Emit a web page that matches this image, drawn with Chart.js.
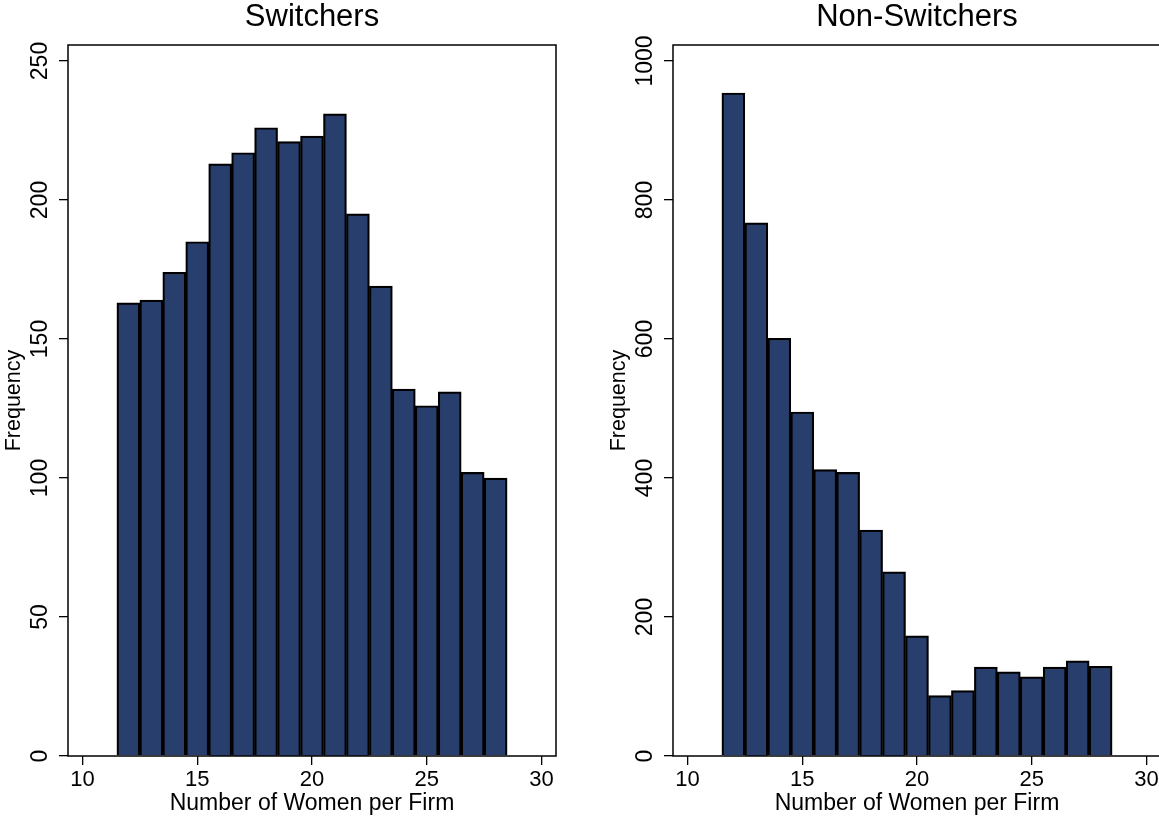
<!DOCTYPE html>
<html>
<head>
<meta charset="utf-8">
<script src="https://cdn.jsdelivr.net/npm/chart.js@4/dist/chart.umd.min.js"></script>
<style>
  html, body { margin: 0; padding: 0; background: #fff; overflow: hidden; }
  body { width: 1159px; height: 819px; position: relative; }
  canvas { position: absolute; top: 0; }
  #left { left: 0; }
  #right { left: 605px; }
</style>
</head>
<body>
<canvas id="left" width="558" height="819"></canvas>
<canvas id="right" width="558" height="819"></canvas>
<script>
// bins (number of women per firm) and counts
const bins = [12, 13, 14, 15, 16, 17, 18, 19, 20, 21, 22, 23, 24, 25, 26, 27, 28];
const switchers = [163, 164, 174, 185, 213, 217, 226, 221, 223, 231, 195, 169, 132, 126, 131, 102, 100];
const nonSwitchers = [954, 767, 601, 495, 412, 408, 325, 265, 173, 87, 94, 128, 121, 114, 128, 137, 129];

const xTicks = [10, 15, 20, 25, 30];
const switchersYTicks = [0, 50, 100, 150, 200, 250];
const nonSwitchersYTicks = [0, 200, 400, 600, 800, 1000];

const FONT = "'Liberation Sans', Arial, Helvetica, sans-serif";
Chart.defaults.font.family = FONT;
Chart.defaults.color = '#000';

// box around the plot region (Stata style)
const framePlugin = {
  id: 'frame',
  afterDraw(chart) {
    const { ctx, chartArea: a } = chart;
    ctx.save();
    ctx.strokeStyle = '#000';
    ctx.lineWidth = 1.5;
    ctx.strokeRect(a.left, a.top, a.right - a.left, a.bottom - a.top);
    ctx.restore();
  }
};

// y tick labels are drawn turned on their side
const yLabelPlugin = {
  id: 'yLabels',
  afterDraw(chart) {
    const { ctx } = chart;
    const s = chart.scales.y;
    ctx.save();
    ctx.fillStyle = '#000';
    ctx.font = '23px ' + FONT;
    ctx.textAlign = 'center';
    ctx.textBaseline = 'alphabetic';
    s.ticks.forEach(t => {
      const y = s.getPixelForValue(t.value);
      ctx.save();
      ctx.translate(47, y);
      ctx.rotate(-Math.PI / 2);
      ctx.fillText(String(t.value), 0, 0);
      ctx.restore();
    });
    ctx.restore();
  }
};

function histogram(id, title, values, yMax, yTicks) {
  return new Chart(document.getElementById(id), {
    type: 'bar',
    data: {
      datasets: [{
        data: bins.map((b, i) => ({ x: b, y: values[i] })),
        backgroundColor: '#283e6c',
        borderColor: '#000',
        borderWidth: 2.2,
        barPercentage: 1,
        categoryPercentage: 1
      }]
    },
    options: {
      responsive: false,
      animation: false,
      devicePixelRatio: 1,
      layout: { padding: { left: 0, right: 2, top: 0, bottom: 0 } },
      plugins: {
        legend: { display: false },
        tooltip: { enabled: false },
        title: {
          display: true,
          text: title,
          fullSize: false,
          color: '#000',
          font: { size: 31, weight: 'normal', lineHeight: 1.1 },
          padding: { top: 0.4, bottom: 10.5 }
        }
      },
      scales: {
        x: {
          type: 'linear',
          min: 9.37,
          max: 30.63,
          offset: false,
          grid: { offset: false, drawOnChartArea: false, tickLength: 9, color: '#000', lineWidth: 1.3 },
          border: { display: false },
          ticks: { font: { size: 22 }, color: '#000', padding: 2, maxRotation: 0, autoSkip: false },
          afterBuildTicks: s => { s.ticks = xTicks.map(v => ({ value: v })); },
          afterFit: s => { s.height = 63; },
          title: {
            display: true,
            text: 'Number of Women per Firm',
            color: '#000',
            font: { size: 23 },
            padding: { top: 0, bottom: 1.3 }
          }
        },
        y: {
          min: 0,
          max: yMax,
          grid: { drawOnChartArea: false, tickLength: 9, color: '#000', lineWidth: 1.3 },
          border: { display: false },
          ticks: { display: false },
          afterBuildTicks: s => { s.ticks = yTicks.map(v => ({ value: v })); },
          afterFit: s => { s.width = 68; },
          title: {
            display: true,
            text: 'Frequency',
            color: '#000',
            font: { size: 21.5 },
            padding: { top: 1, bottom: 0 }
          }
        }
      }
    },
    plugins: [framePlugin, yLabelPlugin]
  });
}

histogram('left', 'Switchers', switchers, 255.76, switchersYTicks);
histogram('right', 'Non-Switchers', nonSwitchers, 1023, nonSwitchersYTicks);
</script>
</body>
</html>
